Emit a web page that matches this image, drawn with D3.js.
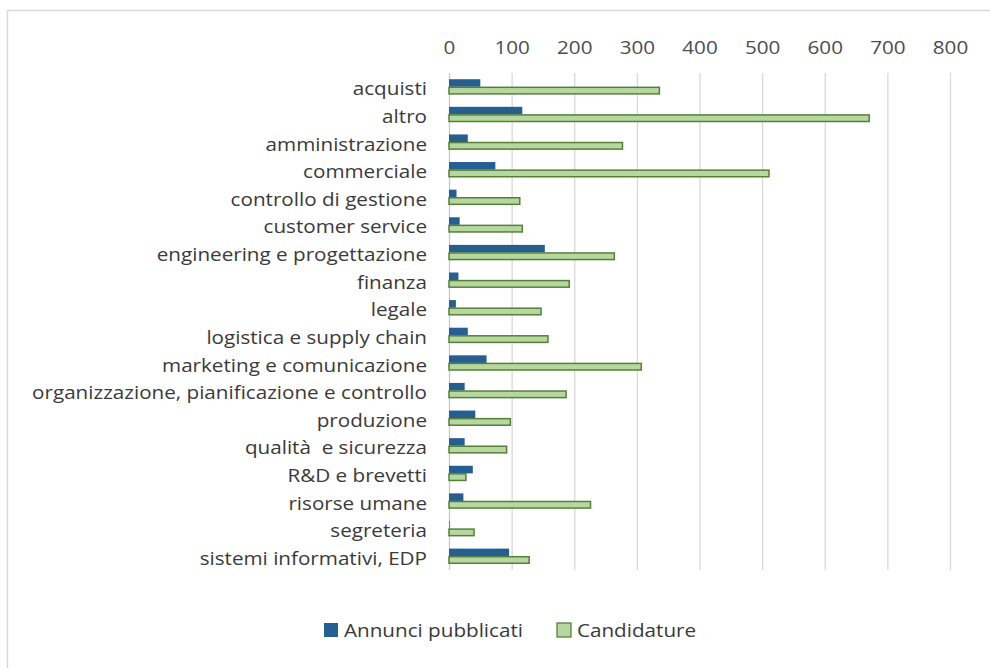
<!DOCTYPE html>
<html>
<head>
<meta charset="utf-8">
<script src="https://cdn.jsdelivr.net/npm/d3@7"></script>
<style>
  html, body { margin: 0; padding: 0; background: #fff; }
  svg { display: block; }
  text { font-family: "Open Sans", sans-serif; white-space: pre; }
</style>
</head>
<body>
<svg id="chart" width="990" height="668"></svg>
<script>
const categories = [
  "acquisti", "altro", "amministrazione", "commerciale", "controllo di gestione",
  "customer service", "engineering e progettazione", "finanza", "legale",
  "logistica e supply chain", "marketing e comunicazione",
  "organizzazione, pianificazione e controllo", "produzione", "qualità  e sicurezza",
  "R&D e brevetti", "risorse umane", "segreteria", "sistemi informativi, EDP"
];
const annunci = [50, 117, 30, 74, 12, 17, 153, 15, 11, 30, 60, 25, 42, 25, 38, 23, 1, 96];
const candidature = [336, 671, 277, 511, 113, 117, 264, 192, 147, 158, 307, 187, 98, 92, 27, 226, 40, 128];
const seriesNames = ["Annunci pubblicati", "Candidature"];
const tickValues = [0, 100, 200, 300, 400, 500, 600, 700, 800];

const svg = d3.select("#chart");
const W = 990, H = 668;
const margin = { left: 449, right: 40, top: 73, bottom: 98 };
const FS = 17.5;
const SX = 1.18; // horizontal stretch of the reference typeface

// outer frame
svg.append("rect")
  .attr("x", 7.5).attr("y", 10.5)
  .attr("width", W + 10).attr("height", H + 10)
  .attr("fill", "#fff").attr("stroke", "#d9d9d9").attr("stroke-width", 1.5);

const x = d3.scaleLinear().domain([0, 800]).range([margin.left, margin.left + 501]);
const y = d3.scaleBand().domain(categories).range([margin.top, H - margin.bottom]).paddingInner(0.45).paddingOuter(0.225);
const sub = d3.scaleBand().domain(seriesNames).range([0, y.bandwidth()]);

// gridlines
const grid = svg.append("g");
grid.selectAll("line").data(tickValues).join("line")
  .attr("x1", d => x(d) + 0.5).attr("x2", d => x(d) + 0.5)
  .attr("y1", margin.top).attr("y2", H - margin.bottom)
  .attr("stroke", d => d === 0 ? "#c8c8c8" : "#d9d9d9").attr("stroke-width", 1.3);

// top axis labels
const xAxis = d3.axisTop(x).tickValues(tickValues).tickSize(0).tickPadding(0);
const gx = svg.append("g").attr("transform", `translate(0,${54})`).call(xAxis);
gx.select(".domain").remove();
gx.selectAll("text").attr("font-size", FS).attr("fill", "#4d4d4d")
  .attr("font-family", "'Open Sans', sans-serif")
  .attr("font-weight", 500)
  .attr("transform", `scale(${SX},1)`);

// category labels
const yAxis = d3.axisLeft(y).tickSize(0).tickPadding(0);
const gy = svg.append("g").attr("transform", `translate(${margin.left},3)`).call(yAxis);
gy.select(".domain").remove();
gy.selectAll("text").attr("font-size", FS).attr("fill", "#3a3a3a")
  .attr("font-family", "'Open Sans', sans-serif")
  .attr("font-weight", 500)
  .attr("x", 0)
  .attr("transform", `translate(-22,0) scale(${SX},1)`);

// bars
const colors = { "Annunci pubblicati": "#255e91", "Candidature": "#b6d7a0" };
const strokes = { "Annunci pubblicati": "none", "Candidature": "#56803a" };
const data = [annunci, candidature];
seriesNames.forEach((s, si) => {
  svg.append("g").selectAll("rect").data(categories).join("rect")
    .attr("x", x(0))
    .attr("y", c => y(c) + sub(s) + (si === 1 ? 0.5 : 0))
    .attr("width", (c, i) => Math.max(0, x(data[si][i]) - x(0)))
    .attr("height", sub.bandwidth() - (si === 1 ? 1 : 0))
    .attr("fill", colors[s])
    .attr("stroke", strokes[s])
    .attr("stroke-width", si === 1 ? 1.5 : 0);
});

// legend
const legend = svg.append("g");
const legendItems = [
  { name: seriesNames[0], x: 324 },
  { name: seriesNames[1], x: 557 }
];
legendItems.forEach(it => {
  legend.append("rect")
    .attr("x", it.x).attr("y", 623).attr("width", 14).attr("height", 14)
    .attr("fill", colors[it.name])
    .attr("stroke", strokes[it.name]).attr("stroke-width", 1.3);
  legend.append("text")
    .attr("x", 0).attr("y", 0)
    .attr("transform", `translate(${it.x + 20},637) scale(${SX},1)`)
    .attr("font-size", FS).attr("font-weight", 500).attr("fill", "#3a3a3a")
    .text(it.name);
});
</script>
</body>
</html>
